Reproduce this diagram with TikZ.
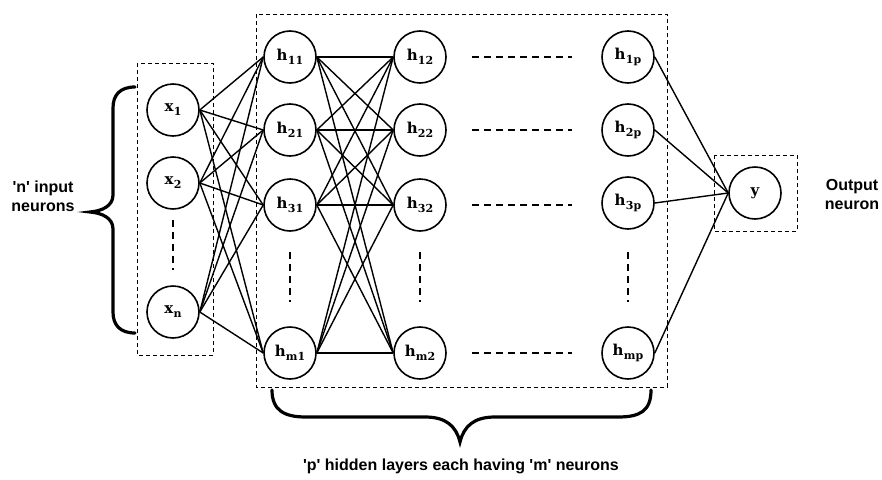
\documentclass[tikz,border=0pt]{standalone}
\usepackage{fontspec}
\newfontfamily\lblfont{Liberation Sans}
\newfontfamily\slab{DejaVu Serif}
\newcommand\nlab[2]{#1\kern0.3pt\raisebox{-0.5ex}{\fontsize{11}{11}\selectfont #2}}
\begin{document}
\begin{tikzpicture}[x=1pt,y=-1pt]
\tikzset{
  neuron/.style={circle,draw,line width=1.6pt,minimum size=52pt,inner sep=0pt,
    font=\slab\bfseries\fontsize{15}{15}\selectfont},
  conn/.style={line width=1.4pt},
  box/.style={draw,line width=1pt,dash pattern=on 4pt off 3pt},
  gapline/.style={line width=1.5pt,dash pattern=on 7pt off 5pt},
  brace/.style={line width=3.2pt,line cap=round},
  lab/.style={font=\lblfont\bfseries\fontsize{16}{19}\selectfont,align=center}
}
\useasboundingbox (0,0) rectangle (882,479);

% boxes
\draw[box] (137,63) rectangle (213,355);
\draw[box] (256,14) rectangle (667,387);
\draw[box] (714,155) rectangle (797,231);

% input neurons
\node[neuron] (x1) at (173,110) {\nlab{x}{1}};
\node[neuron] (x2) at (173,183) {\nlab{x}{2}};
\node[neuron] (xn) at (173,312) {\nlab{x}{n}};

% hidden layer 1
\node[neuron] (h11) at (290,57) {\nlab{h}{11}};
\node[neuron] (h21) at (290,130) {\nlab{h}{21}};
\node[neuron] (h31) at (290,205) {\nlab{h}{31}};
\node[neuron] (hm1) at (290,353) {\nlab{h}{m1}};

% hidden layer 2
\node[neuron] (h12) at (420,57) {\nlab{h}{12}};
\node[neuron] (h22) at (420,130) {\nlab{h}{22}};
\node[neuron] (h32) at (420,205) {\nlab{h}{32}};
\node[neuron] (hm2) at (420,353) {\nlab{h}{m2}};

% hidden layer p
\node[neuron] (h1p) at (628,57) {\nlab{h}{1p}};
\node[neuron] (h2p) at (628,130) {\nlab{h}{2p}};
\node[neuron] (h3p) at (628,203) {\nlab{h}{3p}};
\node[neuron] (hmp) at (628,353) {\nlab{h}{mp}};

% output
\node[neuron] (y) at (755,193) {y};

% connections
\foreach \a in {x1,x2,xn}
  \foreach \b in {h11,h21,h31,hm1}
    \draw[conn] (\a.east) -- (\b.west);
\foreach \a in {11,21,31,m1}
  \foreach \b in {12,22,32,m2}
    \draw[conn] (h\a.east) -- (h\b.west);
\foreach \a in {h1p,h2p,h3p,hmp}
  \draw[conn] (\a.east) -- (y.west);

% gap dashes between layers
\foreach \r/\yy in {1/57,2/130,3/205,m/353}{
  \coordinate (ga\r) at (472,\yy);
  \coordinate (gb\r) at (572,\yy);
  \draw[gapline] (ga\r) -- (gb\r);
}
% vertical gap dashes
\coordinate (vx1) at (173,220); \coordinate (vx2) at (173,270);
\draw[gapline] (vx1) -- (vx2);
\foreach \xx/\n in {290/a,420/b,628/c}{
  \coordinate (v\n1) at (\xx,252);
  \coordinate (v\n2) at (\xx,302);
  \draw[gapline] (v\n1) -- (v\n2);
}

% left brace
\draw[brace] (135,87) .. controls (120,87) and (113,95) .. (113,108)
  -- (113,195) .. controls (113,206) and (102,211) .. (90,212)
  .. controls (102,213) and (113,218) .. (113,229)
  -- (113,312) .. controls (113,325) and (120,333) .. (135,333);

% bottom brace
\draw[brace] (272,390) .. controls (272,411) and (285,417) .. (306,417)
  -- (425,417) .. controls (446,417) and (456,426) .. (460,442)
  .. controls (464,426) and (474,417) .. (495,417)
  -- (618,417) .. controls (640,417) and (651,411) .. (651,390);

% labels
\node[lab] (lin) at (43,196) {'n' input\\neurons};
\node[lab] (lout) at (852,194) {Output\\neuron};
\node[lab] (lhid) at (461,466) {'p' hidden layers each having 'm' neurons};
\end{tikzpicture}
\end{document}
